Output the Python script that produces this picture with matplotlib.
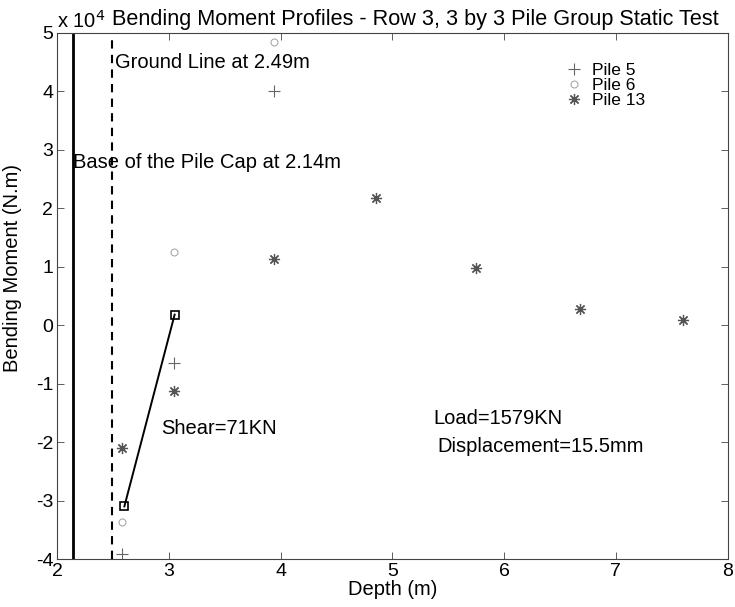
import matplotlib
matplotlib.use("Agg")
import matplotlib.pyplot as plt
from matplotlib.ticker import FuncFormatter

plt.rcParams["font.family"] = ["Liberation Sans", "DejaVu Sans"]

# depth (m) and bending moment (N.m)
pile5_depth = [2.58, 3.04, 3.94]
pile5_moment = [-39200, -6500, 40000]

pile6_depth = [2.58, 3.04, 3.94]
pile6_moment = [-33700, 12500, 48500]

pile13_depth = [2.58, 3.04, 3.94, 4.85, 5.75, 6.68, 7.60]
pile13_moment = [-21000, -11300, 11300, 21800, 9700, 2800, 900]

shear_depth = [2.60, 3.05]
shear_moment = [-31000, 1800]

pile_cap_base = 2.14
ground_line = 2.49

FS = 14.5

fig = plt.figure(figsize=(7.35, 6.07), dpi=100)
ax = fig.add_axes([0.078, 0.079, 0.912, 0.867])

ax.axvline(pile_cap_base, color="black", lw=2.0)
ax.axvline(ground_line, color="black", lw=1.5, ls=(0, (4, 3)))

ax.plot(pile5_depth, pile5_moment, ls="none", marker="+", ms=8, mew=0.8,
        color="#666666", label="Pile 5")
ax.plot(pile6_depth, pile6_moment, ls="none", marker="o", ms=5, mew=0.8,
        mfc="none", mec="#aaaaaa", label="Pile 6")
ax.plot(pile13_depth, pile13_moment, ls="none", marker=(8, 2, 0), ms=8,
        mew=0.9, color="#555555", label="Pile 13")
ax.plot(shear_depth, shear_moment, color="black", lw=1.4, marker="s",
        ms=6, mfc="none", mec="black", mew=1.2)

ax.set_xlim(2, 8)
ax.set_ylim(-40000, 50000)
ax.set_xticks(range(2, 9))
ax.set_yticks(range(-40000, 50001, 10000))
ax.yaxis.set_major_formatter(FuncFormatter(lambda v, p: f"{v / 1e4:g}"))
ax.tick_params(direction="in", length=5, width=0.6, labelsize=14,
               top=True, right=True, colors="#444444", pad=3)
ax.tick_params(labelcolor="black")
for s in ax.spines.values():
    s.set_linewidth(0.8)
    s.set_color("#444444")

ax.set_xlabel("Depth (m)", fontsize=FS, labelpad=0)
ax.set_ylabel("Bending Moment (N.m)", fontsize=FS, labelpad=1)
ax.yaxis.set_label_coords(-0.052, 0.553)
ax.text(0.0, 1.002, "x 10$^4$", transform=ax.transAxes, fontsize=FS,
        ha="left", va="bottom")
ax.text(0.082, 1.006, "Bending Moment Profiles - Row 3, 3 by 3 Pile Group Static Test",
        transform=ax.transAxes, fontsize=15.6, ha="left", va="bottom")

ax.text(2.52, 44900, "Ground Line at 2.49m", fontsize=FS, va="center")
ax.text(2.14, 27900, "Base of the Pile Cap at 2.14m", fontsize=FS,
        va="center")
ax.text(2.93, -17600, "Shear=71KN", fontsize=FS, va="center")
ax.text(5.37, -16000, "Load=1579KN", fontsize=FS, va="center")
ax.text(5.40, -20800, "Displacement=15.5mm", fontsize=FS, va="center")

ax.legend(loc="upper left", bbox_to_anchor=(0.745, 0.96), frameon=False,
          fontsize=12.5, handlelength=1.0, handletextpad=0.55,
          labelspacing=0.0, borderpad=0)

fig.savefig("out.png", dpi=100)
